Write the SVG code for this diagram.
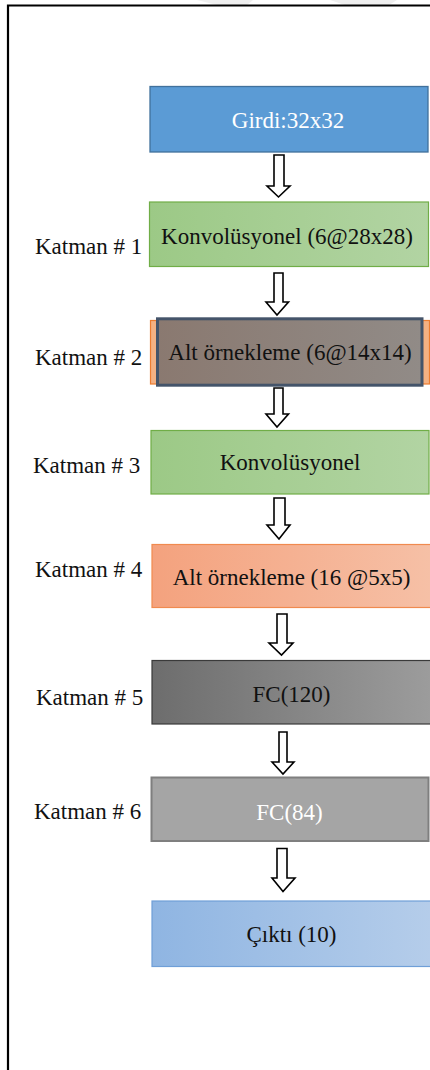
<svg xmlns="http://www.w3.org/2000/svg" width="430" height="1070" viewBox="0 0 430 1070">
<style>
text{font-family:'Liberation Serif','DejaVu Serif',serif;font-size:23px;fill:#111}
.t{text-anchor:middle}
.lbl{text-anchor:start}
.w{fill:#fff}
.arr{fill:#fff;stroke:#000;stroke-width:1.6;stroke-linejoin:miter}
</style>
<defs>
<linearGradient id="gGreen" x1="0" x2="1" y1="0" y2="0"><stop offset="0" stop-color="#9cc986"/><stop offset="1" stop-color="#b2d4a3"/></linearGradient>
<linearGradient id="gBrown" x1="0" x2="1" y1="0" y2="0"><stop offset="0" stop-color="#8a7970"/><stop offset="1" stop-color="#918b87"/></linearGradient>
<linearGradient id="gOrange" x1="0" x2="1" y1="0" y2="0"><stop offset="0" stop-color="#f4a27e"/><stop offset="1" stop-color="#f6c0a6"/></linearGradient>
<linearGradient id="gDark" x1="0" x2="1" y1="0" y2="0"><stop offset="0" stop-color="#6d6d6d"/><stop offset="1" stop-color="#9c9c9c"/></linearGradient>
<linearGradient id="gBlue" x1="0" x2="1" y1="0" y2="0"><stop offset="0" stop-color="#8fb5e2"/><stop offset="1" stop-color="#b5cdea"/></linearGradient>
</defs>
<rect width="430" height="1070" fill="#fff"/>
<polygon points="197,0 253,0 247,5 217,5" fill="#efefef"/>
<polygon points="330,0 397,0 389,5 345,5" fill="#efefef"/>
<path d="M8,1072 V5.5 H432" fill="none" stroke="#000" stroke-width="2.2"/>

<g id="connectors">
<path class="arr" d="M274,155 H284 V186 H290 L278.5,197 L267,186 H274 Z"/>
<path class="arr" d="M274,273 H283 V302 H288.5 L277,315 L266,302 H274 Z"/>
<path class="arr" d="M274,388 H283 V414 H288.5 L277,427 L266,414 H274 Z"/>
<path class="arr" d="M274,498 H285 V525 H290 L279,539 L267,525 H274 Z"/>
<path class="arr" d="M277,614 H287 V643 H293 L281.5,655 L269,643 H277 Z"/>
<path class="arr" d="M279,732 H287 V762 H294 L283,774 L272,762 H279 Z"/>
<path class="arr" d="M277,848.5 H287 V878 H295 L283,891.5 L272,878 H277 Z"/>
</g>

<g id="input">
<rect x="150" y="86.5" width="278" height="65.5" fill="#5b9bd5" stroke="#41719c" stroke-width="1.3"/>
<text class="t w" x="288" y="128" font-family="Liberation Serif">Girdi:32x32</text>
</g>

<g id="layer1">
<text class="lbl" x="35" y="254">Katman # 1</text>
<rect x="149.5" y="202" width="279" height="64.5" fill="url(#gGreen)" stroke="#70ad47" stroke-width="1.2"/>
<text class="t" x="287" y="243.5">Konvolüsyonel (6@28x28)</text>
</g>

<g id="layer2">
<text class="lbl" x="35" y="365">Katman # 2</text>
<rect x="150.5" y="320.5" width="279" height="63.5" fill="#f4b183" stroke="#ed7d31" stroke-width="1.2"/>
<rect x="157.5" y="318.8" width="264.5" height="66.4" fill="url(#gBrown)" stroke="#44546a" stroke-width="3"/>
<text class="t" x="290" y="360">Alt örnekleme (6@14x14)</text>
</g>

<g id="layer3">
<text class="lbl" x="33" y="472.5">Katman # 3</text>
<rect x="151" y="430.5" width="278" height="63.5" fill="url(#gGreen)" stroke="#70ad47" stroke-width="1.2"/>
<text class="t" x="290" y="470">Konvolüsyonel</text>
</g>

<g id="layer4">
<text class="lbl" x="35" y="577">Katman # 4</text>
<rect x="152" y="544.5" width="279" height="63" fill="url(#gOrange)" stroke="#f08a4f" stroke-width="1.2"/>
<text class="t" x="291.5" y="585">Alt örnekleme (16 @5x5)</text>
</g>

<g id="layer5">
<text class="lbl" x="36" y="705">Katman # 5</text>
<rect x="152" y="660.5" width="279" height="63.5" fill="url(#gDark)" stroke="#3a3a3a" stroke-width="1.2"/>
<text class="t" x="291.5" y="702">FC(120)</text>
</g>

<g id="layer6">
<text class="lbl" x="34" y="819">Katman # 6</text>
<rect x="151.5" y="777.5" width="277" height="63.5" fill="#a5a5a5" stroke="#7f7f7f" stroke-width="2"/>
<text class="t w" x="289.5" y="820">FC(84)</text>
</g>

<g id="output">
<rect x="152" y="901" width="279" height="65.5" fill="url(#gBlue)" stroke="#6f9fd8" stroke-width="1.2"/>
<text class="t" x="291.5" y="942">Çıktı (10)</text>
</g>
</svg>
